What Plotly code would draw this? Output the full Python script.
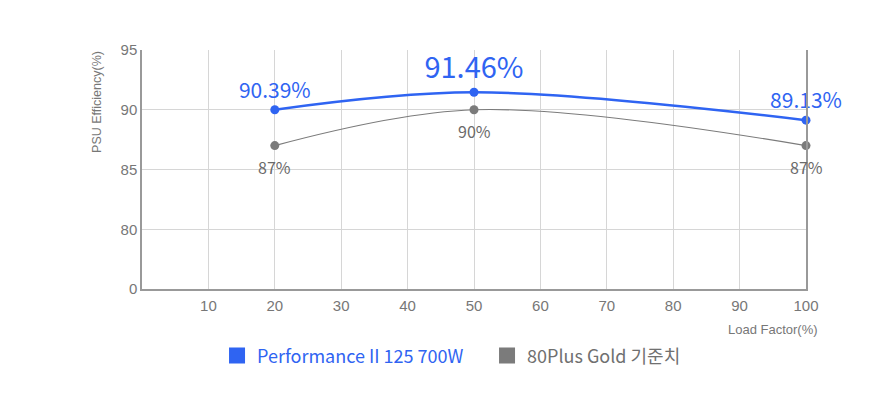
import plotly.graph_objects as go

load = [20, 50, 100]
perf_y = [90.0, 91.46, 89.13]
perf_labels = ["90.39%", "91.46%", "89.13%"]
gold_y = [87, 90, 87]
gold_labels = ["87%", "90%", "87%"]
x_ticks = [10, 20, 30, 40, 50, 60, 70, 80, 90, 100]
y_tickvals = [75, 80, 85, 90, 95]
y_ticktext = ["0", "80", "85", "90", "95"]
series_names = ["Performance II 125 700W", "80Plus Gold 기준치"]

BLUE = "#2f64f2"
GRAY = "#7b7b7b"
KFONT = "Noto Sans CJK KR"

fig = go.Figure()
fig.add_trace(go.Scatter(
    x=load, y=gold_y, mode="lines+markers", line=dict(color=GRAY, width=1.2, shape="spline"),
    marker=dict(color=GRAY, size=9), cliponaxis=False, showlegend=False))
fig.add_trace(go.Scatter(
    x=load, y=perf_y, mode="lines+markers+text", line=dict(color=BLUE, width=2.5, shape="spline"),
    marker=dict(color=BLUE, size=9), text=perf_labels, textposition="top center",
    textfont=dict(color=BLUE, size=[21, 29, 21], family=KFONT), cliponaxis=False, showlegend=False))
# legend entries
fig.add_trace(go.Scatter(x=[None], y=[None], mode="markers",
                         name=f"<span style='color:{BLUE}'>{series_names[0]}</span>",
                         marker=dict(symbol="square", color=BLUE, size=16)))
fig.add_trace(go.Scatter(x=[None], y=[None], mode="markers",
                         name=f"<span style='color:#707070'>{series_names[1]}</span>",
                         marker=dict(symbol="square", color=GRAY, size=16)))

annotations = [dict(x=xv, y=yv, text=t, showarrow=False, yshift=-21, yanchor="middle",
                    font=dict(family=KFONT, size=16, color="#6a6a6a"))
               for xv, yv, t in zip(load, gold_y, gold_labels)]
annotations.append(dict(text="Load Factor(%)", x=1.021, xref="paper", xanchor="right", y=-0.13,
                        yref="paper", yanchor="top", showarrow=False,
                        font=dict(size=13, color="#777777")))
annotations.append(dict(text="PSU Efficiency(%)", x=-0.068, xref="paper", xanchor="center",
                        y=0.782, yref="paper", yanchor="middle", textangle=-90, showarrow=False,
                        font=dict(size=12.5, color="#777777")))

fig.update_layout(
    width=890, height=409, margin=dict(l=142, r=84, t=50, b=120),
    paper_bgcolor="white", plot_bgcolor="white",
    font=dict(family="Liberation Sans, Arial", color="#777777"),
    legend=dict(orientation="h", x=0.113, xanchor="left", y=-0.28, yanchor="middle",
                font=dict(family=KFONT, size=18, color="#666666"), itemwidth=30,
                entrywidth=225, entrywidthmode="pixels", traceorder="normal"),
    xaxis=dict(range=[0, 100], tickvals=x_ticks, showgrid=True, gridcolor="#d6d6d6", gridwidth=1,
               showline=True, linecolor="#999999", linewidth=1.5, zeroline=False, ticks="",
               tickfont=dict(size=15, color="#777777"), ticklabelstandoff=2),
    yaxis=dict(range=[75, 95], tickvals=y_tickvals, ticktext=y_ticktext, showgrid=True,
               gridcolor="#d6d6d6", gridwidth=1, showline=True, mirror=True, linecolor="#999999",
               linewidth=1.5, zeroline=False, ticks="", tickfont=dict(size=15, color="#777777")),
    annotations=annotations,
)

fig.write_html("out.html")
